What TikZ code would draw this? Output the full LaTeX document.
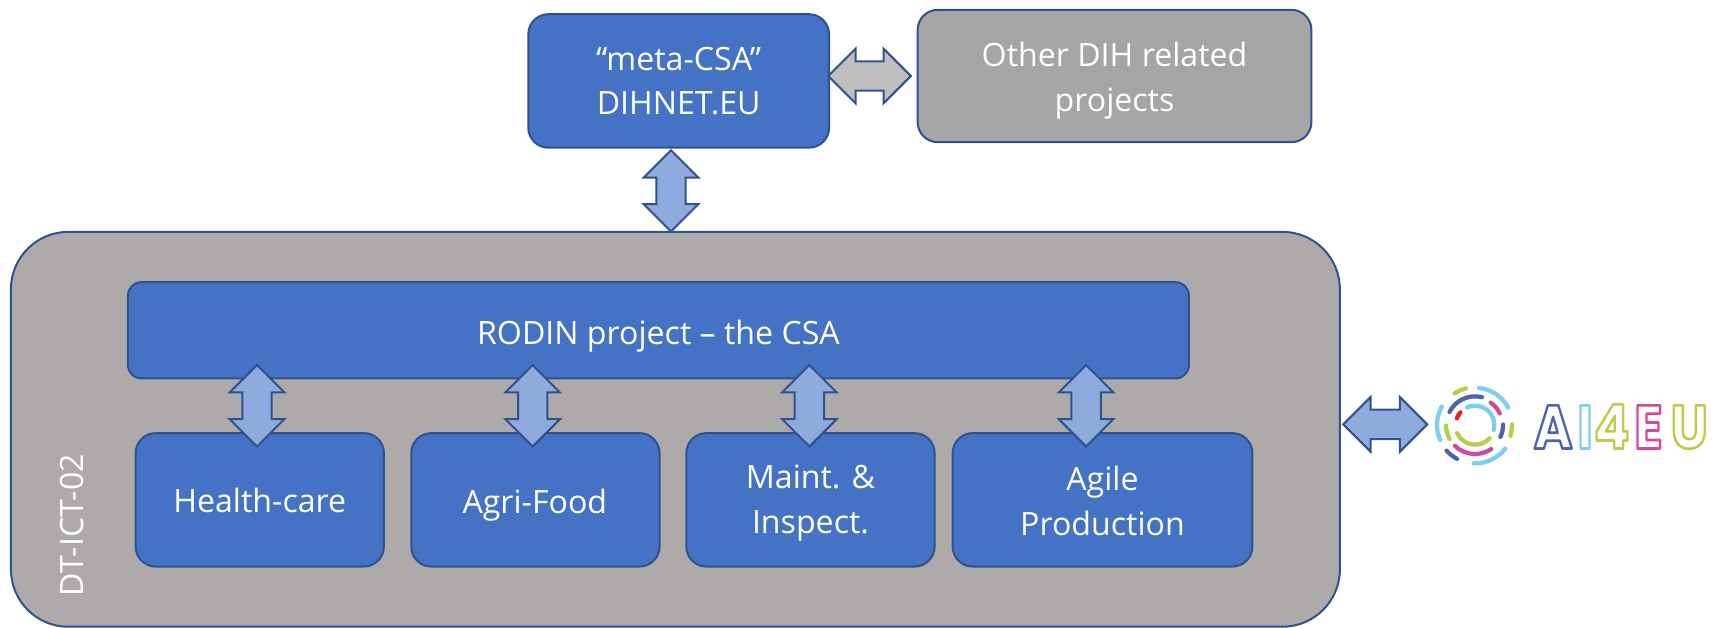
\documentclass[tikz,border=0pt]{standalone}
\usepackage{fontspec}
\usetikzlibrary{shapes.arrows}
\setmainfont{Open Sans}
\newfontfamily\logofont{Poppins}[Scale=1]
\definecolor{blueF}{HTML}{4472C4}
\definecolor{blueD}{HTML}{2F528F}
\definecolor{arrowF}{HTML}{8FAADC}
\definecolor{greyF}{HTML}{A5A5A5}
\definecolor{greyB}{HTML}{AEAAAA}
\definecolor{greyA}{HTML}{BFBFBF}
\definecolor{lB}{HTML}{7CCDEE}
\definecolor{lG}{HTML}{B5CF49}
\definecolor{lP}{HTML}{CF4A9E}
\definecolor{lN}{HTML}{4F62AE}
\definecolor{lR}{HTML}{EE1C25}
\tikzset{
  x=0.8203pt,y=-0.8203pt,
  box/.style={draw=blueD,line width=1.5pt,rounded corners=15pt,fill=blueF},
  lab/.style={text=white,font=\fontsize{24.1}{33.5}\selectfont,align=center,inner sep=0pt},
  dbl/.style={double arrow,draw=blueD,line width=1.5pt,fill=arrowF,minimum height=#1,
    minimum width=41pt,double arrow head extend=9.3pt,inner xsep=0pt,inner ysep=10pt},
  ring/.style={line width=3.2pt,line cap=round}
}
% colour, radius, start angle, end angle (centre at logo)
\newcommand{\ringarc}[4]{\draw[ring,#1] ({(#2/3)*cos(#3)},{-(#2/3)*sin(#3)}) arc[start angle=#3,end angle=#4,radius=#2/3*0.75pt];}
\begin{document}
\begin{tikzpicture}
\useasboundingbox (0,0) rectangle (1568,574);
\node[box,fill=greyB,rounded corners=43pt,minimum width=1215*0.8203pt,minimum height=361*0.8203pt] (dt-box) at (617.5,392.5) {};
\node[box,minimum width=275*0.8203pt,minimum height=122*0.8203pt] (metabox) at (620.5,74) {};
\node[box,fill=greyF,minimum width=360*0.8203pt,minimum height=121*0.8203pt] (otherbox) at (1019,69.5) {};
\node[box,rounded corners=10pt,minimum width=970*0.8203pt,minimum height=88*0.8203pt] (rodinbox) at (602,302) {};
\node[box,minimum width=227*0.8203pt,minimum height=122*0.8203pt] (hcbox) at (237.5,457) {};
\node[box,minimum width=227*0.8203pt,minimum height=122*0.8203pt] (afbox) at (489.5,457) {};
\node[box,minimum width=227*0.8203pt,minimum height=122*0.8203pt] (mibox) at (741,457) {};
\node[box,minimum width=274*0.8203pt,minimum height=122*0.8203pt] (apbox) at (1008,457) {};
\node[lab] (meta) at (620.5,74) {“meta-CSA”\\DIHNET.EU};
\node[lab] (other) at (1019,74) {Other DIH related\\projects};
\node[lab] (rodin) at (602,307) {RODIN project – the CSA};
\node[lab] (hc) at (237.5,458) {Health-care};
\node[lab] (af) at (489,462) {Agri-Food};
\node[lab] (mi) at (741,460) {Maint. \&\\Inspect.};
\node[lab] (ap) at (1008,458) {Agile\\Production};
\node[lab,rotate=90] (dt) at (66,480) {DT-ICT-02};
\node[dbl=62pt,fill=greyA] (a-other) at (795,69.5) {};
\node[dbl=63pt] (a-ai) at (1266.5,388) {};
\node[dbl=61pt,rotate=90] (a-meta) at (613.5,174.5) {};
\node[dbl=61pt,rotate=90] (a-hc) at (235,371) {};
\node[dbl=61pt,rotate=90] (a-af) at (487,371) {};
\node[dbl=61pt,rotate=90] (a-mi) at (740,371) {};
\node[dbl=61pt,rotate=90] (a-ap) at (993,371) {};
\begin{scope}[x=0.75pt,y=-0.75pt,shift={(1475,425)}]
\ringarc{lB}{58}{115}{-15}
\ringarc{lG}{59}{204}{318}
\ringarc{lR}{58}{139}{160}
\ringarc{lG}{87}{181}{209}
\ringarc{lN}{86}{153}{76}
\ringarc{lP}{82}{55}{25}
\ringarc{lN}{84}{1}{-25}
\ringarc{lP}{87}{226}{304}
\ringarc{lB}{112}{84}{28}
\ringarc{lG}{113}{123}{104}
\ringarc{lB}{114}{151}{203}
\ringarc{lG}{111}{1}{-17}
\ringarc{lN}{115}{222}{242}
\ringarc{lB}{115}{268}{322}
\end{scope}
\node[inner sep=0pt,anchor=west,xscale=0.86,font=\logofont\bfseries\fontsize{46}{46}\selectfont] (ai4eu) at (1402,390)
  {\special{pdf:code 1 J 1 j 2 w 1 Tr}\textcolor{lN}{A}\kern4pt\textcolor{lB}{I}\kern1pt\textcolor{lG}{4}\kern4pt\textcolor{lP}{E}\kern7pt\textcolor{lG}{U}\special{pdf:code 0 Tr}};
\end{tikzpicture}
\end{document}
